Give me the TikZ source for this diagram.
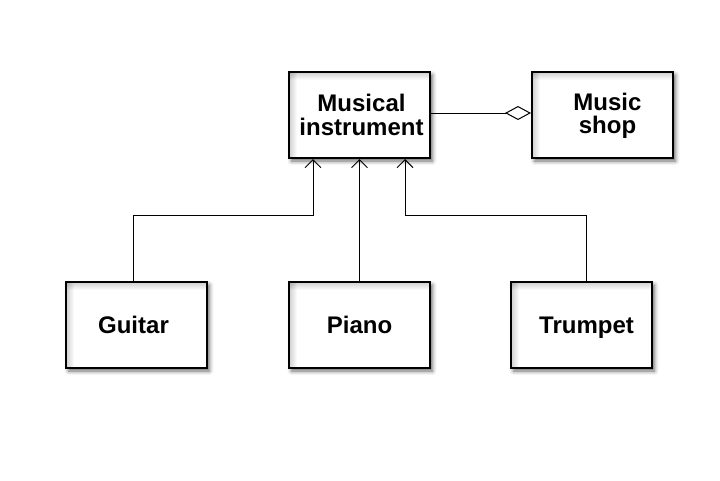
\documentclass[tikz,border=0pt]{standalone}
\usepackage{fontspec}
\setmainfont{Liberation Sans}
\usetikzlibrary{arrows.meta,shadows.blur}
\begin{document}
\begin{tikzpicture}[x=1pt,y=-1pt,
  cls/.style={draw=black,line width=2pt,fill=white,minimum width=141pt,minimum height=86pt,inner sep=0pt,
    blur shadow={shadow xshift=2.5pt,shadow yshift=-3pt,shadow blur radius=4pt,shadow opacity=60},
    path picture={
      \foreach \i in {1,...,8}{
        \fill[black,opacity=0.022] (path picture bounding box.north west) rectangle ([xshift=\i pt]path picture bounding box.south west);
        \fill[black,opacity=0.022] (path picture bounding box.north west) rectangle ([yshift=-\i pt]path picture bounding box.north east);
      }
    }},
  lab/.style={align=center,inner sep=0pt,text depth=0pt,font=\bfseries\fontsize{24}{23.5}\selectfont},
  inh/.style={draw=black,line width=1pt,-{Straight Barb[length=8pt,width=16pt,line width=1pt]}},
  agg/.style={draw=black,line width=1pt,-{Diamond[open,length=26pt,width=14pt,line width=1pt]}}]
\useasboundingbox (0,0) rectangle (720,480);
\node[cls] (mi) at (359.5,115) {};
\node[cls] (ms) at (602.5,115) {};
\node[cls] (gu) at (136.5,325) {};
\node[cls] (pi) at (359.5,325) {};
\node[cls] (tr) at (581.5,325) {};
\node[lab] (mit) at ([xshift=2pt]mi.center) {Musical\\instrument};
\node[lab] (mst) at ([xshift=5pt,yshift=1.5pt]ms.center) {Music\\shop};
\node[lab] (gut) at ([xshift=-3pt]gu.center) {Guitar};
\node[lab] (pit) at (pi.center) {Piano};
\node[lab] (trt) at ([xshift=5pt]tr.center) {Trumpet};
\coordinate (j1) at (133,215);
\coordinate (j2) at (313,215);
\coordinate (j3) at (586,215);
\coordinate (j4) at (405,215);
\draw[inh] (gu.north -| j1) -- (j1) -- (j2) -- (j2 |- mi.south);
\draw[inh] (pi.north) -- (mi.south);
\draw[inh] (tr.north -| j3) -- (j3) -- (j4) -- (j4 |- mi.south);
\draw[agg] ([yshift=2pt]mi.east) -- ([yshift=2pt]ms.west);
\end{tikzpicture}
\end{document}
